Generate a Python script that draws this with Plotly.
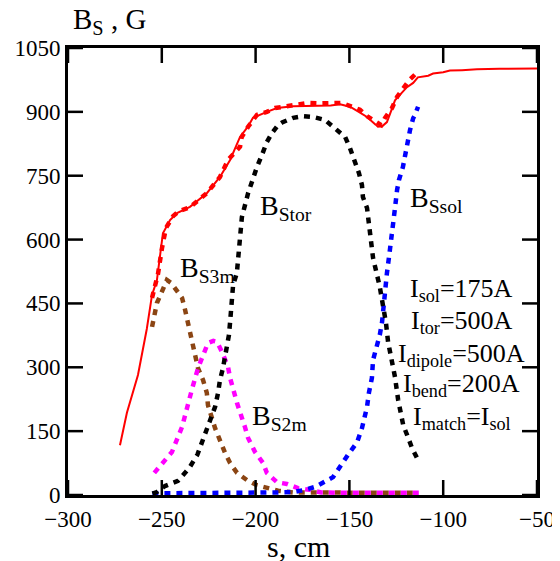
import plotly.graph_objects as go

# ---- data ----
s_calc = [-272.3, -268.6, -262.7, -258, -255.2, -252.6, -249.4, -245.6, -241.9, -235, -226, -219, -213.6,
          -208.3, -204, -201.4, -194, -188.6, -180, -170, -160, -155, -149.7, -145, -140.6, -136, -134.8,
          -132.5, -130, -127.5, -125.7, -122, -119.3, -116, -113.5, -108, -105.4, -100, -96.4, -90, -82,
          -70, -60, -50]
B_calc = [117, 193, 282, 390, 470, 505, 615, 646, 662, 677, 709, 747, 787, 841, 866, 886, 900, 909, 913,
          914, 915, 918, 912, 900, 888, 870, 865, 866, 876, 905, 927, 945, 958, 968, 981, 985, 990, 993,
          997, 998, 1000, 1001, 1002, 1002]

s_meas = [-255.2, -252, -249.9, -247.8, -244, -240.8, -235, -230, -226, -219, -214.7, -210, -208.3, -207.4,
          -204, -199.3, -194, -189.6, -185.4, -178, -172, -166, -160.3, -154, -148.6, -144.4, -140, -135.3,
          -133, -131, -127.3, -124.6, -121.3, -118, -114]
B_meas = [463, 520, 580, 627, 655, 667, 676, 695, 709, 747, 787, 810, 818, 841, 865, 893, 900, 909, 912,
          917, 921, 920, 921, 921, 912, 905, 888, 876, 869, 886, 909, 935, 956, 975, 992]

s_tor = [-255, -252.6, -248.3, -241.4, -237.6, -235, -231, -228.6, -225.9, -221.6, -220, -219, -217.4,
         -215.2, -214.2, -213.6, -213.1, -212.6, -212, -210, -208.8, -207.3, -204, -201.4, -199.3, -196.6,
         -194, -191.3, -188, -185.9, -180, -174.7, -169.4, -163, -157.7, -152.3, -149.7, -147, -144.9,
         -143.3, -142.8, -140.6, -139, -137.4, -133.8, -132, -130.5, -129.4, -125.7, -124, -121.3, -118.8,
         -116.6, -113.4]
B_tor = [3, 7, 21, 33, 52, 66, 95, 124, 153, 207, 240, 270, 298, 345, 376, 406, 439, 463, 493, 521, 587,
         653, 709, 744, 770, 799, 829, 850, 869, 875, 886, 890, 888, 881, 862, 841, 815, 782, 756, 728, 700,
         674, 620, 557, 489, 446, 404, 360, 277, 223, 164, 136, 110, 82]

s_sol = [-255, -245, -235, -225, -215, -205, -195, -188, -180, -173.7, -168.3, -164, -158.7, -150.8, -145.9,
         -143.3, -140.6, -139.6, -138, -137.4, -135.3, -133.8, -132.6, -132, -131, -130, -128.4, -126.7,
         -125.7, -124.6, -123.6, -121.5, -119.3, -117.7, -116, -115, -113.4]
B_sol = [4, 4, 4, 4, 4, 4, 5, 6, 7, 12, 19, 30, 42, 94, 124, 157, 207, 240, 275, 317, 348, 376, 406, 439,
         493, 521, 576, 627, 674, 716, 740, 770, 829, 857, 885, 893, 912]

s_2m = [-254, -249.4, -244.6, -239.2, -237.6, -234, -230.7, -228, -225.4, -222.5, -220.6, -217.9, -214.7,
        -213.6, -212, -209.9, -205.7, -204, -200.3, -196, -194, -188.6, -183.3, -177.4, -171, -165, -150,
        -135, -113]
B_2m = [52, 78, 101, 160, 188, 247, 298, 329, 357, 362, 360, 336, 301, 275, 247, 216, 160, 134, 101, 75,
        52, 30, 26, 16, 12, 6, 5, 5, 5]

s_3m = [-255.2, -253.6, -252.6, -250, -247.3, -245, -242, -239.2, -237.6, -236, -235, -232.3, -230.7, -228,
        -226, -225.4, -223.2, -221.6, -216.3, -213.6, -209.9, -204.6, -199.3, -194, -188, -180, -160, -140,
        -113]
B_3m = [395, 428, 451, 477, 505, 498, 480, 463, 435, 404, 381, 329, 298, 270, 240, 211, 183, 157, 99, 75,
        52, 35, 23, 16, 10, 6, 5, 5, 5]

x_ticks = [-300, -250, -200, -150, -100, -50]
y_ticks = [0, 150, 300, 450, 600, 750, 900, 1050]

FONT = "Liberation Serif, Times New Roman, serif"
DOT = "6px,6px"
TICKLEN = 15

fig = go.Figure()
fig.add_trace(go.Scatter(x=s_3m, y=B_3m, mode="lines", line=dict(color="#8b4513", width=4.5, dash=DOT)))
fig.add_trace(go.Scatter(x=s_2m, y=B_2m, mode="lines", line=dict(color="#ff00ff", width=4.5, dash=DOT)))
fig.add_trace(go.Scatter(x=s_sol, y=B_sol, mode="lines", line=dict(color="#0000ff", width=4.5, dash=DOT)))
fig.add_trace(go.Scatter(x=s_tor, y=B_tor, mode="lines", line=dict(color="#000000", width=4.5, dash=DOT)))
fig.add_trace(go.Scatter(x=s_calc, y=B_calc, mode="lines", line=dict(color="#ff0000", width=2)))
fig.add_trace(go.Scatter(x=s_meas, y=B_meas, mode="lines", line=dict(color="#ff0000", width=4.5, dash=DOT)))

labels = [
    (-198.7, 676, "B<sub>Stor</sub>"),
    (-118.8, 693, "B<sub>Ssol</sub>"),
    (-241.5, 530, "B<sub>S3m</sub>"),
    (-203.0, 181, "B<sub>S2m</sub>"),
]
for xv, yv, txt in labels:
    fig.add_annotation(x=xv, y=yv, xref="x", yref="y", text=txt, showarrow=False,
                       xanchor="left", yanchor="middle", font=dict(family=FONT, size=28, color="black"))

currents = [
    ("I<sub>sol</sub>=175A", 481),
    ("I<sub>tor</sub>=500A", 406),
    ("I<sub>dipole</sub>=500A", 329),
    ("I<sub>bend</sub>=200A", 258),
    ("I<sub>match</sub>=I<sub>sol</sub>", 181),
]
for txt, yv in currents:
    fig.add_annotation(x=-90, y=yv, xref="x", yref="y", text=txt, showarrow=False,
                       xanchor="center", yanchor="middle", font=dict(family=FONT, size=26, color="black"))

fig.add_annotation(x=0, y=1, xref="paper", yref="paper", text="B<sub>S</sub> , G", showarrow=False,
                   xanchor="left", yanchor="middle", xshift=3, yshift=27,
                   font=dict(family=FONT, size=29, color="black"))
fig.add_annotation(x=0.5, y=0, xref="paper", yref="paper", text="s, cm", showarrow=False,
                   xanchor="center", yanchor="middle", xshift=-4, yshift=-51,
                   font=dict(family=FONT, size=30, color="black"))

# inward tick marks on all four sides, at the axis tick values
tick_line = dict(color="black", width=2.5)
for xv in x_ticks:
    for anchor, sign in ((0, 1), (1, -1)):
        fig.add_shape(type="line", xref="x", yref="paper", x0=xv, x1=xv, ysizemode="pixel", yanchor=anchor,
                      y0=0, y1=sign * TICKLEN, line=tick_line, layer="above")
for yv in y_ticks:
    for anchor, sign in ((0, 1), (1, -1)):
        fig.add_shape(type="line", yref="y", xref="paper", y0=yv, y1=yv, xsizemode="pixel", xanchor=anchor,
                      x0=0, x1=sign * TICKLEN, line=tick_line, layer="above")

axis_common = dict(showgrid=False, zeroline=False, showline=True, linecolor="black", linewidth=3,
                   mirror=True, ticks="", automargin=False,
                   tickfont=dict(family=FONT, size=23, color="black"))
fig.update_xaxes(range=[-300, -50], tickmode="array", tickvals=x_ticks, ticklabelstandoff=1, **axis_common)
fig.update_yaxes(range=[0, 1050], tickmode="array", tickvals=y_ticks, ticklabelstandoff=0, **axis_common)

# margins compensate for the 8px default page margin of the HTML body
fig.update_layout(template="none", width=560, height=561, margin=dict(l=60, r=31, t=40, b=74),
                  showlegend=False, plot_bgcolor="white", paper_bgcolor="white")

fig.write_html("out.html")
